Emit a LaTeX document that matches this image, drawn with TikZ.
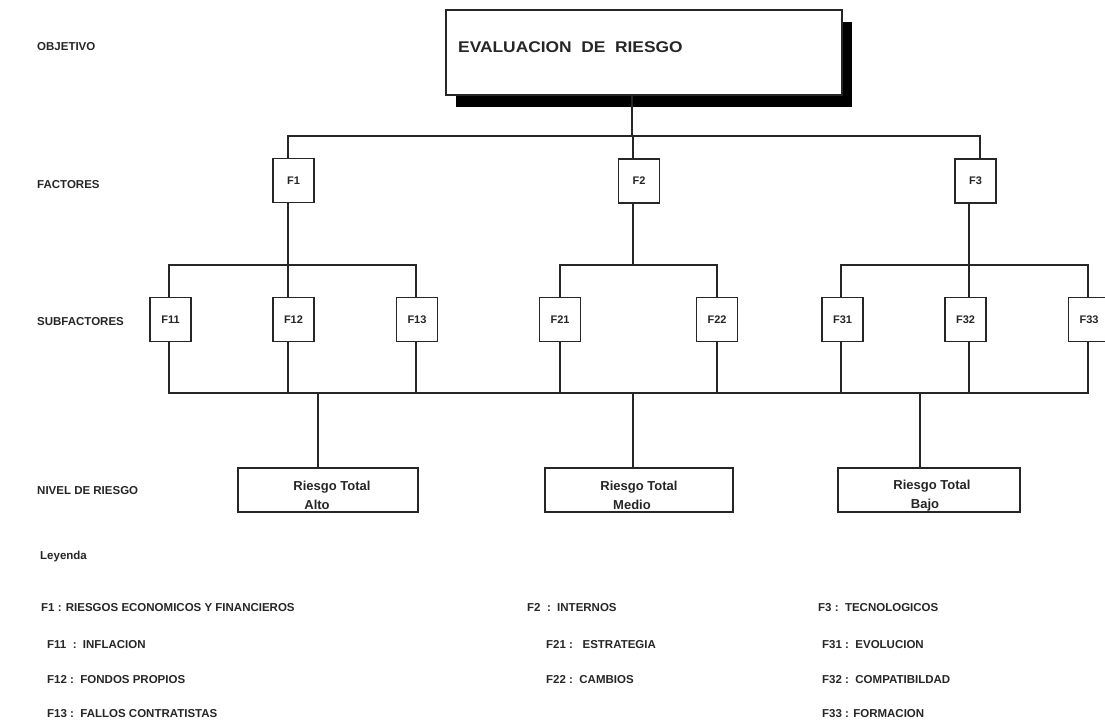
\documentclass[tikz,border=0pt]{standalone}
\usepackage{fontspec}
\setmainfont{Liberation Sans}
\newfontfamily\wideff[FakeStretch=1.12]{Liberation Sans Bold}
\usetikzlibrary{shadows}
\definecolor{ink}{HTML}{262626}
\begin{document}
\begin{tikzpicture}[x=1pt,y=-1pt,
  every node/.style={font=\bfseries\fontsize{11.5}{13}\selectfont, text=ink},
  lbl/.style={anchor=west, inner sep=0pt},
  sbox/.style={draw=ink, line width=1.2pt, fill=white, minimum width=41pt, minimum height=44pt, inner sep=0pt, font=\bfseries\fontsize{11}{13}\selectfont},
  rbox/.style={draw=ink, line width=1.2pt, fill=white, minimum height=44pt, inner sep=0pt, align=center, font=\bfseries\fontsize{13}{19}\selectfont},
  wire/.style={draw=ink, line width=1.2pt}]
\useasboundingbox (0,0) rectangle (1105,724);

% left labels
\node[lbl] (lobj) at (37,47) {OBJETIVO};
\node[lbl] (lfac) at (37,185) {FACTORES};
\node[lbl] (lsub) at (37,322) {SUBFACTORES};
\node[lbl] (lniv) at (37,491) {NIVEL DE RIESGO};

% top box
\node[draw=ink, line width=1.2pt, fill=white, minimum width=396pt, minimum height=85pt,
  drop shadow={shadow xshift=10pt, shadow yshift=-12pt, fill=black, opacity=1}] (top) at (644,52.5) {};
\node[lbl, font=\wideff\fontsize{15.5}{18}\selectfont] (toptxt) at (458,47) {EVALUACION\ \ DE\ \ RIESGO};

% factors
\node[sbox] (F1) at (293.5,180.5) {F1};
\node[sbox] (F2) at (639,181) {F2};
\node[sbox] (F3) at (975.5,181) {F3};

% subfactors
\node[sbox] (F11) at (170.5,319.5) {F11};
\node[sbox] (F12) at (293.5,319.5) {F12};
\node[sbox] (F13) at (417,319.5) {F13};
\node[sbox] (F21) at (560,319.5) {F21};
\node[sbox] (F22) at (717,319.5) {F22};
\node[sbox] (F31) at (842.5,319.5) {F31};
\node[sbox] (F32) at (965.5,319.5) {F32};
\node[sbox] (F33) at (1089,319.5) {F33};

% risk boxes
\node[rbox, minimum width=180pt] (RA) at (328,490) {\rule{0pt}{20pt}\hspace*{8pt}Riesgo Total\\\hspace*{-22pt}Alto};
\node[rbox, minimum width=188pt] (RM) at (639,490) {\rule{0pt}{20pt}Riesgo Total\\\hspace*{-14pt}Medio};
\node[rbox, minimum width=182pt] (RB) at (929,490) {\rule{0pt}{20pt}\hspace*{6pt}Riesgo Total\\\hspace*{-8pt}Bajo};

% junction coordinates
\coordinate (j0) at (632,136);
\coordinate (x288) at (288,0);
\coordinate (x633) at (633,0);
\coordinate (x980) at (980,0);
\coordinate (x969) at (969,0);
\coordinate (x169) at (169,0);
\coordinate (x416) at (416,0);
\coordinate (x841) at (841,0);
\coordinate (x1088) at (1088,0);
\coordinate (x318) at (318,0);
\coordinate (x920) at (920,0);
\coordinate (j1) at (288,265);
\coordinate (j2) at (633,265);
\coordinate (j3) at (969,265);
\coordinate (bus) at (169,393);

% connectors
\draw[wire] (top.south -| j0) -- (j0);
\draw[wire] (F1.north -| x288) -- (x288 |- j0) -- (x980 |- j0) -- (F3.north -| x980);
\draw[wire] (F2.north -| x633) -- (x633 |- j0);

\draw[wire] (F1.south -| x288) -- (j1);
\draw[wire] (F11.north -| x169) -- (x169 |- j1) -- (x416 |- j1) -- (F13.north -| x416);
\draw[wire] (F12.north -| x288) -- (x288 |- j1);

\draw[wire] (F2.south -| x633) -- (j2);
\draw[wire] (F21.north) -- (F21.north |- j2) -- (F22.north |- j2) -- (F22.north);

\draw[wire] (F3.south -| x969) -- (j3);
\draw[wire] (F31.north -| x841) -- (x841 |- j3) -- (x1088 |- j3) -- (F33.north -| x1088);
\draw[wire] (F32.north -| x969) -- (x969 |- j3);

\draw[wire] (F11.south -| x169) -- (bus) -- (x1088 |- bus) -- (F33.south -| x1088);
\draw[wire] (F12.south -| x288) -- (x288 |- bus);
\draw[wire] (F13.south -| x416) -- (x416 |- bus);
\draw[wire] (F21.south) -- (F21.south |- bus);
\draw[wire] (F22.south) -- (F22.south |- bus);
\draw[wire] (F31.south -| x841) -- (x841 |- bus);
\draw[wire] (F32.south -| x969) -- (x969 |- bus);

\draw[wire] (RA.north -| x318) -- (x318 |- bus);
\draw[wire] (RM.north -| x633) -- (x633 |- bus);
\draw[wire] (RB.north -| x920) -- (x920 |- bus);

% legend
\node[lbl] (ley) at (40,557) {Leyenda};
\node[lbl] (l1) at (41,608) {F1 : RIESGOS ECONOMICOS Y FINANCIEROS};
\node[lbl] (l11) at (47,645) {F11\ \ :\ \ INFLACION};
\node[lbl] (l12) at (47,680) {F12 :\ \ FONDOS PROPIOS};
\node[lbl] (l13) at (47,714) {F13 :\ \ FALLOS CONTRATISTAS};
\node[lbl] (l2) at (527,608) {F2\ \ :\ \ INTERNOS};
\node[lbl] (l21) at (546,645) {F21 :\ \ \ ESTRATEGIA};
\node[lbl] (l22) at (546,680) {F22 :\ \ CAMBIOS};
\node[lbl] (l3) at (818,608) {F3 :\ \ TECNOLOGICOS};
\node[lbl] (l31) at (822,645) {F31 :\ \ EVOLUCION};
\node[lbl] (l32) at (822,680) {F32 :\ \ COMPATIBILDAD};
\node[lbl] (l33) at (822,714) {F33 : FORMACION};
\end{tikzpicture}
\end{document}
